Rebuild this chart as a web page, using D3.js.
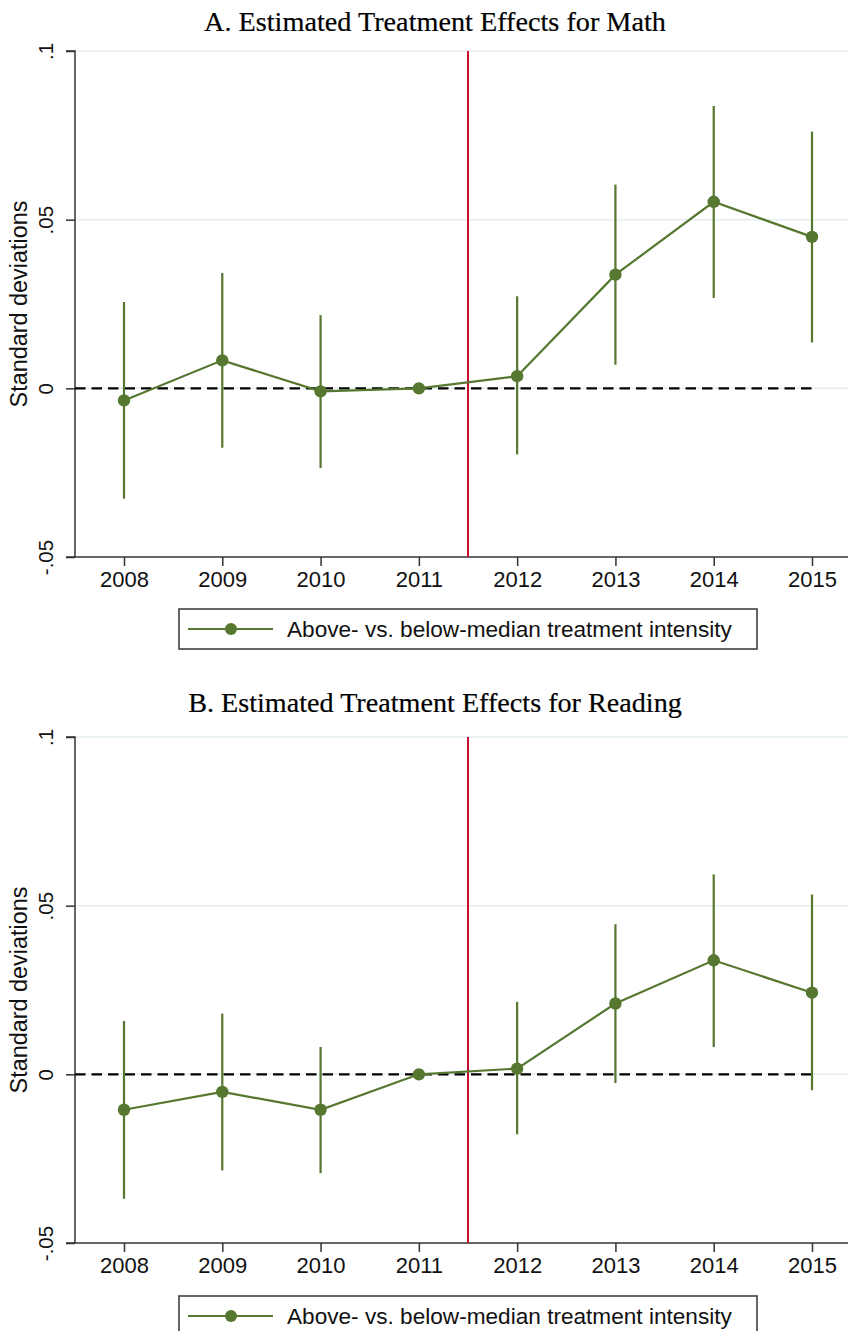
<!DOCTYPE html>
<html><head><meta charset="utf-8">
<script src="https://cdn.jsdelivr.net/npm/d3@7"></script>
<style>body{margin:0;background:#fff}svg{display:block}</style>
</head><body>
<script>
const years = [2008, 2009, 2010, 2011, 2012, 2013, 2014, 2015];
const mathEst = [-0.0036, 0.0083, -0.0009, 0, 0.0036, 0.0337, 0.0553, 0.0449];
const mathLo  = [-0.0327, -0.0176, -0.0236, null, -0.0196, 0.0070, 0.0268, 0.0136];
const mathHi  = [0.0256, 0.0342, 0.0217, null, 0.0273, 0.0604, 0.0837, 0.0761];
const readEst = [-0.0105, -0.0052, -0.0105, 0, 0.0017, 0.0210, 0.0338, 0.0242];
const readLo  = [-0.0369, -0.0285, -0.0293, null, -0.0178, -0.0026, 0.0081, -0.0047];
const readHi  = [0.0158, 0.0180, 0.0081, null, 0.0215, 0.0445, 0.0593, 0.0533];
const yTicks = [-0.05, 0, 0.05, 0.1];
const yTickLabels = ["-.05", "0", ".05", ".1"];
const titles = ["A. Estimated Treatment Effects for Math", "B. Estimated Treatment Effects for Reading"];
const yLabel = "Standard deviations";
const legendLabel = "Above- vs. below-median treatment intensity";
const treatmentBreak = 2011.5;

const W = 850, H = 1331;
const green = "#55772f", red = "#c8102e", axisCol = "#333", gridCol = "#e4eef0";
const svg = d3.select("body").append("svg").attr("width", W).attr("height", H);

const panels = [
  {est: mathEst, lo: mathLo, hi: mathHi, title: titles[0], top: 51, bottom: 557, titleY: 31, legTop: 609},
  {est: readEst, lo: readLo, hi: readHi, title: titles[1], top: 737, bottom: 1243, titleY: 712, legTop: 1296}
];

function fitText(sel, target) {
  const fs = parseFloat(sel.attr("font-size"));
  const w = sel.node().getComputedTextLength();
  sel.attr("font-size", (fs * target / w).toFixed(2));
}

const x = d3.scaleLinear().domain([2008, 2015]).range([124, 812]);
const plotLeft = 75, plotRight = 848;
const sans = "Liberation Sans, Arial, sans-serif";

panels.forEach((p, pi) => {
  const g = svg.append("g");
  const y = d3.scaleLinear().domain([-0.05, 0.1]).range([p.bottom, p.top]);

  // title
  const t = g.append("text").attr("x", 435).attr("y", p.titleY).attr("text-anchor", "middle")
    .attr("font-family", "Liberation Serif, serif").attr("font-size", 25).attr("fill", "#000")
    .attr("stroke", "#000").attr("stroke-width", 0.2).text(p.title);
  fitText(t, pi === 0 ? 462 : 494);

  // gridlines
  g.append("g").selectAll("line").data(yTicks.filter(v => v > -0.05)).join("line")
    .attr("x1", plotLeft).attr("x2", plotRight).attr("y1", d => y(d)).attr("y2", d => y(d))
    .attr("stroke", gridCol).attr("stroke-width", 1.5);

  // y axis
  const ya = g.append("g").attr("transform", `translate(${plotLeft},0)`)
    .call(d3.axisLeft(y).tickValues(yTicks).tickFormat((d, i) => yTickLabels[i]).tickSize(9).tickPadding(0));
  ya.select(".domain").attr("stroke", axisCol).attr("stroke-width", 1.5).attr("d", `M-9,${p.top}H0V${p.bottom}`);
  ya.selectAll(".tick line").attr("stroke", axisCol).attr("stroke-width", 1.5);
  ya.selectAll(".tick text").attr("font-family", sans).attr("font-size", 20.5)
    .attr("fill", "#111").attr("text-anchor", "middle").attr("dy", 0)
    .attr("transform", "rotate(-90)").attr("x", 0).attr("y", -22);

  // x axis
  const xa = g.append("g").attr("transform", `translate(0,${p.bottom})`)
    .call(d3.axisBottom(x).tickValues(years).tickFormat(d3.format("d")).tickSize(9).tickPadding(4));
  xa.select(".domain").attr("stroke", axisCol).attr("stroke-width", 1.5).attr("d", `M${plotLeft - 9},0H${plotRight}`);
  xa.selectAll(".tick line").attr("stroke", axisCol).attr("stroke-width", 1.5);
  xa.selectAll(".tick text").attr("font-family", sans).attr("font-size", 22)
    .attr("fill", "#111").attr("y", 30).attr("dy", 0);

  // y label
  const yl = g.append("text").attr("transform", `translate(27,${(p.top + p.bottom) / 2}) rotate(-90)`)
    .attr("text-anchor", "middle").attr("font-family", sans)
    .attr("font-size", 20).attr("fill", "#111").text(yLabel);
  fitText(yl, 207);

  // zero dashed line
  g.append("line").attr("x1", plotLeft).attr("x2", x(2015)).attr("y1", y(0)).attr("y2", y(0))
    .attr("stroke", "#000").attr("stroke-width", 2.2).attr("stroke-dasharray", "10.5,6");

  // treatment line
  g.append("line").attr("x1", x(treatmentBreak)).attr("x2", x(treatmentBreak)).attr("y1", p.top).attr("y2", p.bottom)
    .attr("stroke", red).attr("stroke-width", 2);

  const data = years.map((yr, i) => ({yr, est: p.est[i], lo: p.lo[i], hi: p.hi[i]}));

  // CIs
  g.append("g").selectAll("line").data(data.filter(d => d.lo !== null)).join("line")
    .attr("x1", d => x(d.yr)).attr("x2", d => x(d.yr)).attr("y1", d => y(d.lo)).attr("y2", d => y(d.hi))
    .attr("stroke", green).attr("stroke-width", 2.2);

  // connecting line
  g.append("path").datum(data).attr("fill", "none").attr("stroke", green).attr("stroke-width", 2.2)
    .attr("d", d3.line().x(d => x(d.yr)).y(d => y(d.est)));

  g.append("g").selectAll("circle").data(data).join("circle")
    .attr("cx", d => x(d.yr)).attr("cy", d => y(d.est)).attr("r", 6.2).attr("fill", green);

  // legend
  const lg = g.append("g");
  lg.append("rect").attr("x", 179).attr("y", p.legTop).attr("width", 578).attr("height", 40)
    .attr("fill", "#fff").attr("stroke", axisCol).attr("stroke-width", 1.5);
  lg.append("line").attr("x1", 188).attr("x2", 273).attr("y1", p.legTop + 20).attr("y2", p.legTop + 20)
    .attr("stroke", green).attr("stroke-width", 2);
  lg.append("circle").attr("cx", 231).attr("cy", p.legTop + 20).attr("r", 6).attr("fill", green);
  const lt = lg.append("text").attr("x", 287).attr("y", p.legTop + 28).attr("font-family", sans)
    .attr("font-size", 21).attr("fill", "#111").text(legendLabel);
  fitText(lt, 445);
});
</script>
</body></html>
